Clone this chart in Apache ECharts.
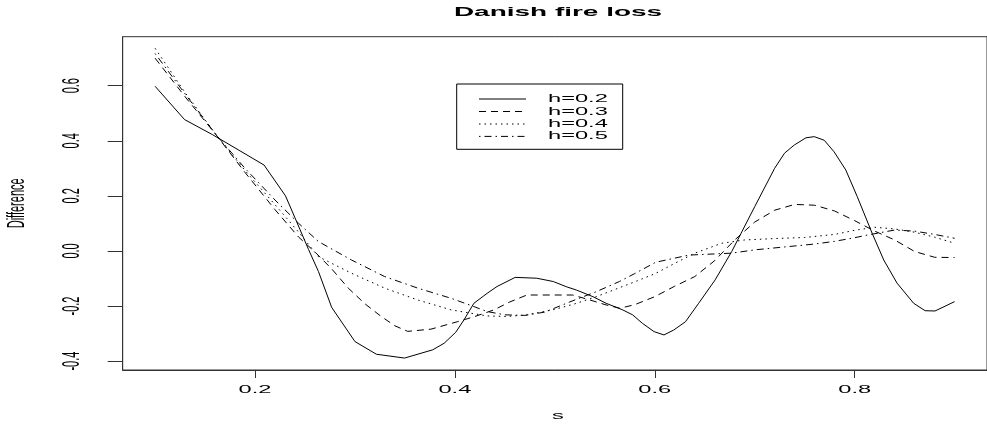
<!DOCTYPE html>
<html><head><meta charset="utf-8">
<script src="https://cdn.jsdelivr.net/npm/echarts@6/dist/echarts.min.js"></script>
<style>html,body{margin:0;padding:0;background:#fff}#c{width:987px;height:428px}</style>
</head><body><div id="c"></div>
<script>
// ---- data ----
const titleText = 'Danish fire loss';
const xName = 's';
const yName = 'Difference';
const xTicks = [0.2, 0.4, 0.6, 0.8];
const xTickLabels = ['0.2', '0.4', '0.6', '0.8'];
const yTicks = [-0.4, -0.2, 0.0, 0.2, 0.4, 0.6];
const yTickLabels = ['-0.4', '-0.2', '0.0', '0.2', '0.4', '0.6'];
const seriesNames = ['h=0.2', 'h=0.3', 'h=0.4', 'h=0.5'];

const s02 = [0.100,0.1295,0.1576,0.209,0.2305,0.240,0.2536,0.2635,0.2767,0.300,0.3214,0.3496,0.3778,0.3893,0.4009,0.4091,0.419,0.4322,0.4422,0.4603,0.4819,0.4984,0.5116,0.5216,0.5381,0.5513,0.5679,0.5778,0.5877,0.5993,0.6092,0.619,0.6307,0.6439,0.6604,0.677,0.700,0.7199,0.7298,0.7397,0.7513,0.7596,0.7695,0.7794,0.7911,0.8026,0.8175,0.8291,0.8424,0.859,0.8705,0.8804,0.900];
const v02 = [0.598,0.477,0.422,0.312,0.200,0.120,0.005,-0.075,-0.205,-0.329,-0.375,-0.389,-0.359,-0.335,-0.295,-0.250,-0.190,-0.154,-0.129,-0.096,-0.099,-0.111,-0.130,-0.142,-0.166,-0.190,-0.214,-0.232,-0.263,-0.293,-0.305,-0.287,-0.257,-0.190,-0.105,-0.002,0.161,0.300,0.355,0.385,0.411,0.415,0.402,0.360,0.294,0.197,0.064,-0.033,-0.117,-0.190,-0.217,-0.218,-0.184];

const s03 = [0.10,0.13,0.161,0.19,0.22,0.2437,0.26,0.2767,0.2933,0.31,0.3263,0.34,0.3528,0.376,0.4025,0.42,0.439,0.455,0.472,0.518,0.535,0.5513,0.565,0.58,0.60,0.62,0.64,0.66,0.68,0.70,0.72,0.74,0.76,0.78,0.80,0.82,0.84,0.86,0.88,0.90];
const v03 = [0.700,0.560,0.422,0.285,0.150,0.050,-0.004,-0.065,-0.135,-0.192,-0.238,-0.272,-0.292,-0.284,-0.257,-0.238,-0.214,-0.185,-0.160,-0.160,-0.178,-0.196,-0.208,-0.195,-0.166,-0.128,-0.093,-0.035,0.040,0.105,0.148,0.169,0.166,0.145,0.110,0.072,0.040,-0.002,-0.023,-0.024];

const s04 = [0.10,0.13,0.161,0.19,0.22,0.2437,0.2635,0.2966,0.3297,0.3628,0.3963,0.4322,0.452,0.472,0.50,0.52,0.54,0.56,0.58,0.60,0.62,0.64,0.667,0.69,0.72,0.75,0.78,0.80,0.82,0.84,0.86,0.88,0.90];
const v04 = [0.736,0.575,0.422,0.292,0.168,0.068,-0.021,-0.081,-0.135,-0.178,-0.214,-0.236,-0.238,-0.232,-0.212,-0.192,-0.168,-0.140,-0.112,-0.083,-0.045,-0.008,0.028,0.040,0.045,0.049,0.060,0.075,0.086,0.080,0.068,0.050,0.028];

const s05 = [0.10,0.13,0.161,0.19,0.22,0.2437,0.2635,0.2966,0.3297,0.3628,0.3963,0.419,0.4322,0.45,0.47,0.49,0.515,0.5414,0.5646,0.58,0.601,0.634,0.677,0.70,0.7596,0.78,0.80,0.813,0.84,0.86,0.88,0.90];
const v05 = [0.717,0.570,0.422,0.300,0.185,0.100,0.034,-0.033,-0.093,-0.135,-0.172,-0.202,-0.220,-0.232,-0.234,-0.222,-0.185,-0.148,-0.111,-0.082,-0.041,-0.015,-0.008,0.004,0.025,0.035,0.048,0.058,0.076,0.072,0.060,0.046];

// ---- build ----
const seriesS = [s02, s03, s04, s05];
const seriesV = [v02, v03, v04, v05];
const dashStyles = ['solid', [7, 5], [1.5, 4], [1.5, 4, 7, 4]];
const FONT = '"Liberation Sans", Arial, Helvetica, sans-serif';
const STRETCH = 2.15;

const chart = echarts.init(document.getElementById('c'), null, {renderer: 'canvas'});
const axisColor = '#333';
const option = {
  animation: false,
  backgroundColor: '#fff',
  grid: {left: 122.7, top: 36.7, width: 871.4, height: 333.3, show: true,
         borderColor: axisColor, borderWidth: 1, backgroundColor: 'transparent'},
  xAxis: {type: 'value', min: 0.0676, max: 0.9324,
    axisLine: {show: true, onZero: false, lineStyle: {color: axisColor, width: 1}},
    axisTick: {show: true, customValues: xTicks, length: 8, lineStyle: {color: axisColor}},
    axisLabel: {show: false, customValues: xTicks},
    splitLine: {show: false}},
  yAxis: {type: 'value', min: -0.4323, max: 0.778,
    axisLine: {show: true, onZero: false, lineStyle: {color: axisColor, width: 1}},
    axisTick: {show: true, customValues: yTicks, length: 15, lineStyle: {color: axisColor}},
    axisLabel: {show: false, customValues: yTicks},
    splitLine: {show: false}},
  series: seriesNames.map((name, i) => ({
    name: name, type: 'line', showSymbol: false, symbol: 'none',
    lineStyle: {color: '#000', width: 1, type: dashStyles[i]},
    data: seriesS[i].map((s, j) => [s, seriesV[i][j]])
  }))
};
chart.setOption(option);

const px = v => chart.convertToPixel({xAxisIndex: 0}, v);
const py = v => chart.convertToPixel({yAxisIndex: 0}, v);
const xL = px(0.0676), xR = px(0.9324), yB = py(-0.4323), yT = py(0.778);
const cx = (xL + xR) / 2;

function txt(text, x, y, size, opts) {
  opts = opts || {};
  return {type: 'text', x: x, y: y, rotation: opts.rot || 0,
    scaleX: opts.rot ? 1 : STRETCH, scaleY: opts.rot ? STRETCH : 1, silent: true,
    style: {text: text, font: (opts.bold ? 'bold ' : '') + size + 'px ' + FONT, fill: '#000',
      textAlign: opts.align || 'center', align: opts.align || 'center',
      textVerticalAlign: 'middle', verticalAlign: 'middle'}};
}

const g = [];
g.push(txt(titleText, 558, 12, 13, {bold: true}));
g.push(txt(xName, 558, 416, 11));
g.push(txt(yName, 17, (yT + yB) / 2, 11, {rot: Math.PI / 2}));
xTicks.forEach((t, i) => g.push(txt(xTickLabels[i], px(t), yB + 20, 11)));
yTicks.forEach((t, i) => g.push(txt(yTickLabels[i], xL - 50, py(t), 11, {rot: Math.PI / 2})));

// legend box
const lgX = 456.7, lgY = 84, lgW = 166, lgH = 65.3;
g.push({type: 'rect', shape: {x: lgX, y: lgY, width: lgW, height: lgH}, silent: true,
  style: {fill: '#fff', stroke: '#000', lineWidth: 1}});
const rowY = [99, 111.5, 124, 136.4];
seriesNames.forEach((name, i) => {
  const d = dashStyles[i];
  g.push({type: 'line', silent: true, shape: {x1: 479, y1: rowY[i], x2: 526, y2: rowY[i]},
    style: {stroke: '#000', lineWidth: 1, lineDash: Array.isArray(d) ? d : null}});
  g.push(txt(name, 548, rowY[i], 11, {align: 'left'}));
});
chart.setOption({graphic: {elements: g}});
</script></body></html>
